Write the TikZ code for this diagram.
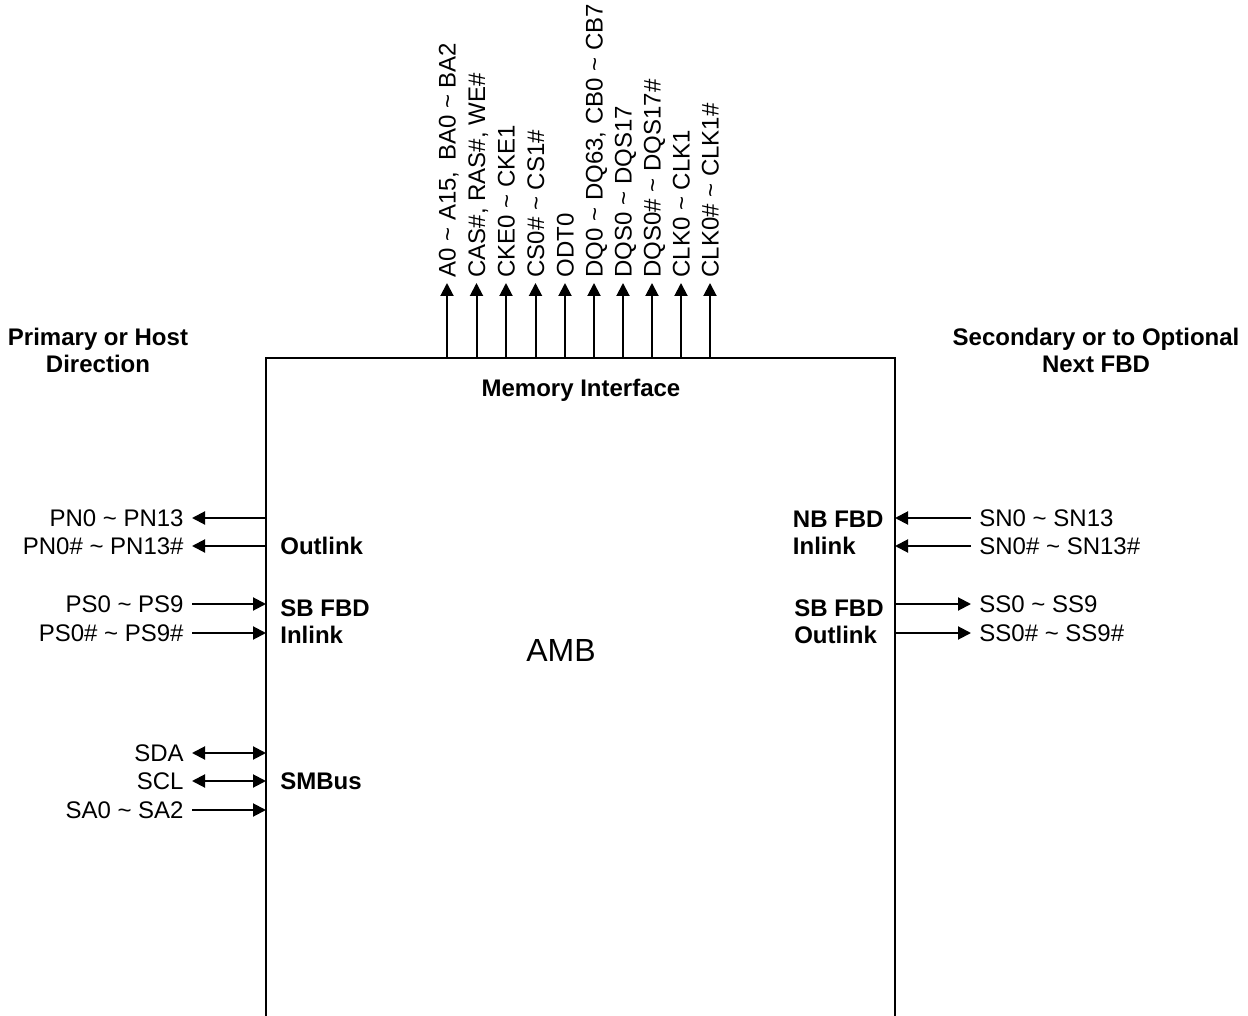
\documentclass[tikz,border=0pt]{standalone}
\usepackage{fontspec}
\setmainfont{Liberation Sans}
\usetikzlibrary{arrows.meta}
\tikzset{
  sig/.style={font=\fontsize{12}{14}\selectfont, inner sep=4pt, text height=8.6pt, text depth=0pt},
  topsig/.style={sig, rotate=90, anchor=west, inner sep=2.5pt},
  blocklabel/.style={font=\fontsize{12}{13.5}\selectfont\bfseries, inner sep=0pt},
  wire/.style={line width=1pt, -{Triangle[length=6.5pt,width=6.5pt]}},
  biwire/.style={line width=1pt, {Triangle[length=6.5pt,width=6.5pt]}-{Triangle[length=6.5pt,width=6.5pt]}}
}
\begin{document}
\begin{tikzpicture}[x=0.5pt,y=-0.5pt]
  \useasboundingbox (0,0) rectangle (1248,1016);
  % AMB block, open at the bottom
  \coordinate (boxbl) at (266,1016);
  \coordinate (boxtl) at (266,358);
  \coordinate (boxtr) at (895,358);
  \coordinate (boxbr) at (895,1016);
  \draw[line width=1.1pt] (boxbl) -- (boxtl) -- (boxtr) -- (boxbr);
  \node[font=\fontsize{16}{18}\selectfont] (amb) at (561,650) {AMB};
  \node[blocklabel] (meminf) at (581,390) {Memory Interface};

  % side headings
  \node[blocklabel, align=center] (primary) at (98,350) {Primary or Host\\Direction};
  \node[blocklabel, align=center] (secondary) at (1096,350) {Secondary or to Optional\\Next FBD};

  % memory interface signals
  \node[topsig] (sa) at (447,283) {A0 \textasciitilde{} A15,\, BA0 \textasciitilde{} BA2};
  \node[topsig] (scas) at (476.5,283) {CAS\#, RAS\#, WE\#};
  \node[topsig] (scke) at (506,283) {CKE0 \textasciitilde{} CKE1};
  \node[topsig] (scs) at (535.5,283) {CS0\# \textasciitilde{} CS1\#};
  \node[topsig] (sodt) at (565,283) {ODT0};
  \node[topsig] (sdq) at (594,283) {DQ0 \textasciitilde{} DQ63, CB0 \textasciitilde{} CB7};
  \node[topsig] (sdqs) at (623,283) {DQS0 \textasciitilde{} DQS17};
  \node[topsig] (sdqsn) at (652,283) {DQS0\# \textasciitilde{} DQS17\#};
  \node[topsig] (sclk) at (681,283) {CLK0 \textasciitilde{} CLK1};
  \node[topsig] (sclkn) at (710,283) {CLK0\# \textasciitilde{} CLK1\#};
  \draw[wire] (sa.west |- boxtl) -- (sa.west);
  \draw[wire] (scas.west |- boxtl) -- (scas.west);
  \draw[wire] (scke.west |- boxtl) -- (scke.west);
  \draw[wire] (scs.west |- boxtl) -- (scs.west);
  \draw[wire] (sodt.west |- boxtl) -- (sodt.west);
  \draw[wire] (sdq.west |- boxtl) -- (sdq.west);
  \draw[wire] (sdqs.west |- boxtl) -- (sdqs.west);
  \draw[wire] (sdqsn.west |- boxtl) -- (sdqsn.west);
  \draw[wire] (sclk.west |- boxtl) -- (sclk.west);
  \draw[wire] (sclkn.west |- boxtl) -- (sclkn.west);

  % primary side
  \node[sig, anchor=east] (pn) at (192,518) {PN0 \textasciitilde{} PN13};
  \node[sig, anchor=east] (pnn) at (192,546) {PN0\# \textasciitilde{} PN13\#};
  \node[sig, anchor=east] (ps) at (192,604) {PS0 \textasciitilde{} PS9};
  \node[sig, anchor=east] (psn) at (192,633) {PS0\# \textasciitilde{} PS9\#};
  \node[sig, anchor=east] (sda) at (192,753) {SDA};
  \node[sig, anchor=east] (scl) at (192,781) {SCL};
  \node[sig, anchor=east] (saddr) at (192,810) {SA0 \textasciitilde{} SA2};
  \draw[wire] (pn.east -| boxtl) -- (pn.east);
  \draw[wire] (pnn.east -| boxtl) -- (pnn.east);
  \draw[wire] (ps.east) -- (ps.east -| boxtl);
  \draw[wire] (psn.east) -- (psn.east -| boxtl);
  \draw[biwire] (sda.east) -- (sda.east -| boxtl);
  \draw[biwire] (scl.east) -- (scl.east -| boxtl);
  \draw[wire] (saddr.east) -- (saddr.east -| boxtl);
  \node[blocklabel, anchor=west] (outlink) at (280,546) {Outlink};
  \node[blocklabel, anchor=west, align=left] (sbin) at (280,622) {SB FBD\\Inlink};
  \node[blocklabel, anchor=west] (smbus) at (280,781) {SMBus};

  % secondary side
  \node[sig, anchor=west] (sn) at (971,518) {SN0 \textasciitilde{} SN13};
  \node[sig, anchor=west] (snn) at (971,546) {SN0\# \textasciitilde{} SN13\#};
  \node[sig, anchor=west] (ss) at (971,604) {SS0 \textasciitilde{} SS9};
  \node[sig, anchor=west] (ssn) at (971,633) {SS0\# \textasciitilde{} SS9\#};
  \draw[wire] (sn.west) -- (sn.west -| boxtr);
  \draw[wire] (snn.west) -- (snn.west -| boxtr);
  \draw[wire] (ss.west -| boxtr) -- (ss.west);
  \draw[wire] (ssn.west -| boxtr) -- (ssn.west);
  \node[blocklabel, anchor=east, align=left] (nbin) at (884,533) {NB FBD\\Inlink};
  \node[blocklabel, anchor=east, align=left] (sbout) at (884,622) {SB FBD\\Outlink};
\end{tikzpicture}
\end{document}
